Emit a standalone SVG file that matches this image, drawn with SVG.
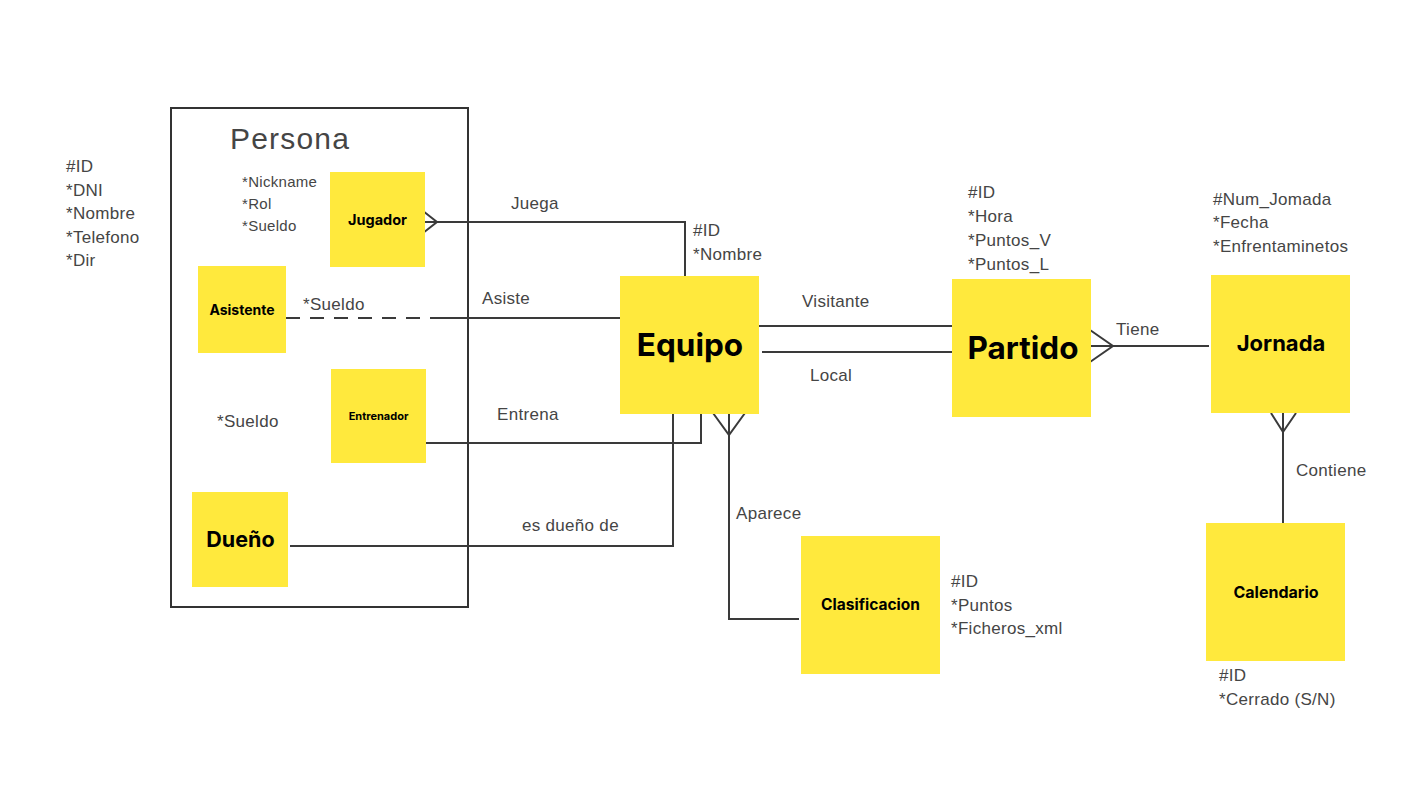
<svg xmlns="http://www.w3.org/2000/svg" width="1422" height="800" viewBox="0 0 1422 800">
<style>
.node rect{fill:#FFE93D;}
.lbl{font-family:Inter,"Open Sans","Liberation Sans",sans-serif;font-weight:700;fill:#000;text-anchor:middle;}
.t{font-family:"Liberation Sans",Arial,sans-serif;font-size:17px;letter-spacing:0.3px;fill:#454545;}
.ts{font-family:"Liberation Sans",Arial,sans-serif;font-size:15px;letter-spacing:0.3px;fill:#454545;}
.c{fill:none;stroke:#3a3a3a;stroke-width:2;}
</style>
<rect width="1422" height="800" fill="#fff"/>
<g id="persona">
<rect x="171" y="108" width="297" height="499" fill="none" stroke="#333" stroke-width="2"/>
<text x="230" y="149" font-family="Liberation Sans,Arial,sans-serif" font-size="30" letter-spacing="1.2" fill="#454545">Persona</text>
</g>
<g id="persona-attrs">
<text class="t" x="66" y="172">#ID</text>
<text class="t" x="66" y="196">*DNI</text>
<text class="t" x="66" y="219">*Nombre</text>
<text class="t" x="66" y="243">*Telefono</text>
<text class="t" x="66" y="266">*Dir</text>
</g>
<g id="connectors">
<path class="c" d="M425 222 H685 V276"/>
<path class="c" d="M423 211 L437 222 L423 233"/>
<path class="c" d="M286 318 H430" stroke-dasharray="14 10"/>
<path class="c" d="M430 318 H620"/>
<path class="c" d="M426 443 H701 V414"/>
<path class="c" d="M290 546 H673 V414"/>
<path class="c" d="M729 414 V619 H799"/>
<path class="c" d="M713 413 L729 435 L745 413"/>
<path class="c" d="M759 326 H952"/>
<path class="c" d="M762 352 H955"/>
<path class="c" d="M1091 346 H1209"/>
<path class="c" d="M1090 330 L1113 346 L1090 362"/>
<path class="c" d="M1283 413 V523"/>
<path class="c" d="M1271 413 L1283 432 L1296 413"/>
</g>
<g id="connector-labels">
<text class="t" x="511" y="209">Juega</text>
<text class="t" x="482" y="304">Asiste</text>
<text class="t" x="497" y="420">Entrena</text>
<text class="t" x="522" y="531">es dueño de</text>
<text class="t" x="736" y="519">Aparece</text>
<text class="t" x="802" y="307">Visitante</text>
<text class="t" x="810" y="381">Local</text>
<text class="t" x="1116" y="335">Tiene</text>
<text class="t" x="1296" y="476">Contiene</text>
</g>
<g id="jugador" class="node">
<rect x="330" y="172" width="95" height="95"/>
<text class="lbl" x="377.5" y="225" font-size="14.5">Jugador</text>
<text class="ts" x="242" y="187">*Nickname</text>
<text class="ts" x="242" y="209">*Rol</text>
<text class="ts" x="242" y="231">*Sueldo</text>
</g>
<g id="asistente" class="node">
<rect x="198" y="266" width="88" height="87"/>
<text class="lbl" x="242" y="315" font-size="14">Asistente</text>
<text class="t" x="303" y="310">*Sueldo</text>
</g>
<g id="entrenador" class="node">
<rect x="331" y="369" width="95" height="94"/>
<text class="lbl" x="378.5" y="420" font-size="11">Entrenador</text>
<text class="t" x="217" y="427">*Sueldo</text>
</g>
<g id="dueno" class="node">
<rect x="192" y="492" width="96" height="95"/>
<text class="lbl" x="240.5" y="547" font-size="21.5">Dueño</text>
</g>
<g id="equipo" class="node">
<rect x="620" y="276" width="139" height="138"/>
<text class="lbl" x="690" y="356" font-size="31.5">Equipo</text>
<text class="t" x="693" y="236">#ID</text>
<text class="t" x="693" y="260">*Nombre</text>
</g>
<g id="partido" class="node">
<rect x="952" y="279" width="139" height="138"/>
<text class="lbl" x="1023" y="359" font-size="31.5">Partido</text>
<text class="t" x="968" y="198">#ID</text>
<text class="t" x="968" y="222">*Hora</text>
<text class="t" x="968" y="246">*Puntos_V</text>
<text class="t" x="968" y="270">*Puntos_L</text>
</g>
<g id="jornada" class="node">
<rect x="1211" y="275" width="139" height="138"/>
<text class="lbl" x="1281" y="351" font-size="22">Jornada</text>
<text class="t" x="1213" y="205">#Num_Jomada</text>
<text class="t" x="1213" y="228">*Fecha</text>
<text class="t" x="1213" y="252">*Enfrentaminetos</text>
</g>
<g id="calendario" class="node">
<rect x="1206" y="523" width="139" height="138"/>
<text class="lbl" x="1276" y="598" font-size="16">Calendario</text>
<text class="t" x="1219" y="681">#ID</text>
<text class="t" x="1219" y="705">*Cerrado (S/N)</text>
</g>
<g id="clasificacion" class="node">
<rect x="801" y="536" width="139" height="138"/>
<text class="lbl" x="870.5" y="610" font-size="15.5">Clasificacion</text>
<text class="t" x="951" y="587">#ID</text>
<text class="t" x="951" y="611">*Puntos</text>
<text class="t" x="951" y="634">*Ficheros_xml</text>
</g>
</svg>
